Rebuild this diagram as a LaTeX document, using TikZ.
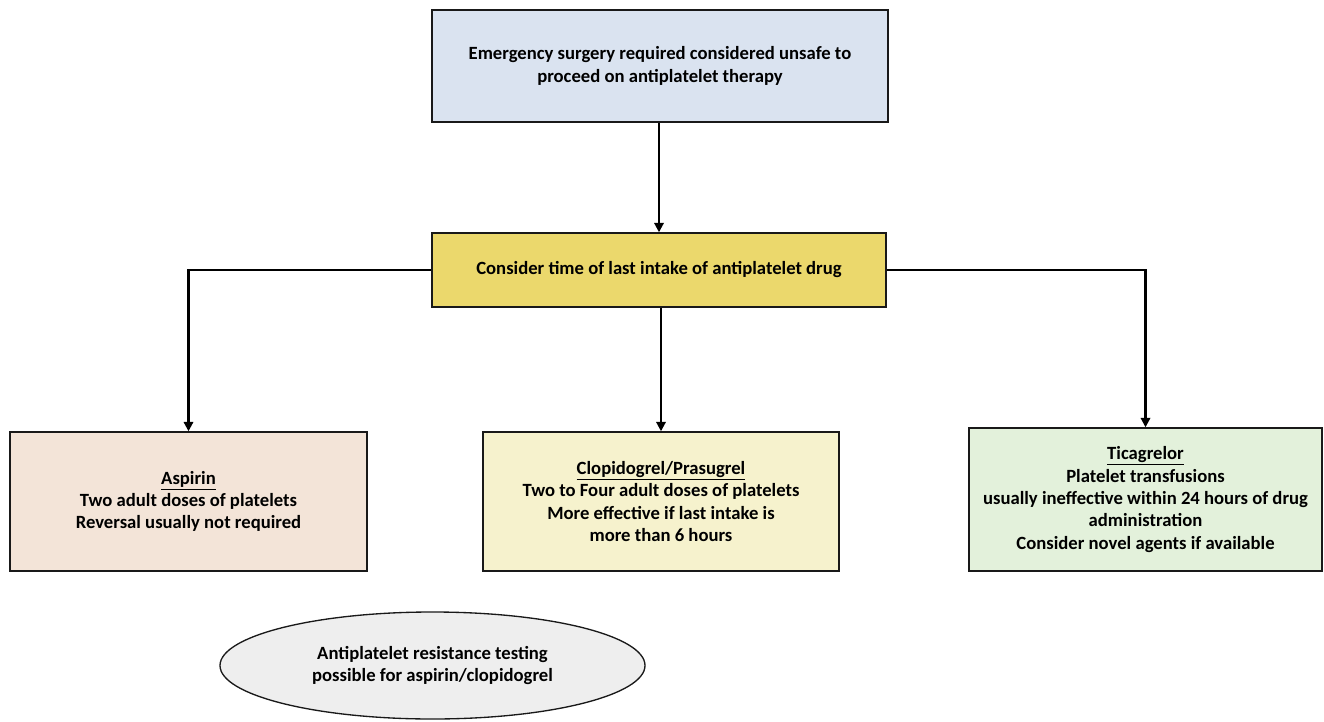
\documentclass[tikz,border=0pt]{standalone}
\usepackage{fontspec}
\setmainfont{Carlito}
\usepackage{tikz}
\usetikzlibrary{shapes.geometric}
\usetikzlibrary{arrows.meta}

\definecolor{topblue}{HTML}{DAE3F0}
\definecolor{midyellow}{HTML}{EBD86C}
\definecolor{aspcol}{HTML}{F3E4D8}
\definecolor{clopcol}{HTML}{F6F2CD}
\definecolor{ticcol}{HTML}{E3F1DB}
\definecolor{ellgrey}{HTML}{EEEEEE}

\tikzset{
    box/.style={rectangle, draw=black!90, line width=1.1pt, align=center,
        font=\bfseries\fontsize{14}{16.8}\selectfont},
    link/.style={line width=1.6pt, -{Triangle[length=7pt,width=7pt]}}
}

\begin{document}
\begin{tikzpicture}[x=0.75pt, y=-0.75pt]
        \useasboundingbox (0,0) rectangle (1324,721);
        \node[box, fill=topblue, minimum width=342pt, minimum height=84pt] (emerg) at (660,66)
            {Emergency surgery required considered unsafe to\\proceed on antiplatelet therapy};
        \node[box, fill=midyellow, minimum width=340.5pt, minimum height=55.5pt] (last) at (659,270)
            {Consider time of last intake of antiplatelet drug};
        \node[box, fill=aspcol, minimum width=267.75pt, minimum height=104.25pt] (asp) at (188.5,501.5)
            {\underline{Aspirin}\\Two adult doses of platelets\\Reversal usually not required};
        \node[box, fill=clopcol, minimum width=267pt, minimum height=104.25pt] (clop) at (661,501.5)
            {\underline{Clopidogrel/Prasugrel}\\Two to Four adult doses of platelets\\More effective if last intake is\\more than 6 hours};
        \node[box, fill=ticcol, minimum width=264.75pt, minimum height=107.25pt] (tic) at (1145.5,499.5)
            {\underline{Ticagrelor}\\Platelet transfusions\\usually ineffective within 24 hours of drug\\administration\\Consider novel agents if available};
        \node[ellipse, draw=black!90, line width=1pt, fill=ellgrey, minimum width=318.75pt, minimum height=80.25pt,
            align=center, font=\bfseries\fontsize{14}{16.8}\selectfont] (resist) at (432.5,665.5)
            {Antiplatelet resistance testing\\possible for aspirin/clopidogrel};
        \draw[link] (emerg.south -| last.north) -- (last.north);
        \draw[link] (last.west) -| (asp.north);
        \draw[link] (last.south -| clop.north) -- (clop.north);
        \draw[link] (last.east) -| (tic.north);
    \end{tikzpicture}
\end{document}
